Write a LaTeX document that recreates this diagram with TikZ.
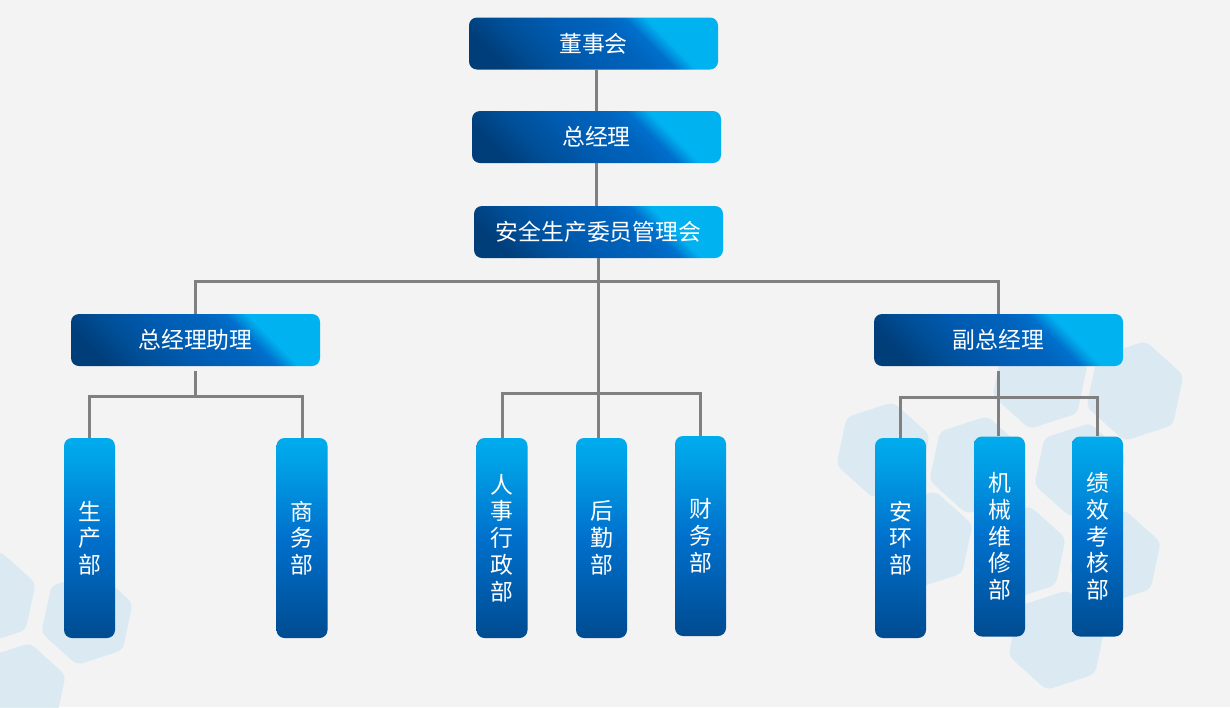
\documentclass[tikz,border=0pt]{standalone}
\usepackage{fontspec}
\setmainfont{Noto Sans CJK SC}
\usepackage{tikz}
\usetikzlibrary{positioning}
\definecolor{bgcol}{RGB}{243,243,243}
\definecolor{hexcol}{RGB}{212,232,242}
\definecolor{linegray}{RGB}{128,128,128}
\definecolor{bdark}{RGB}{0,62,122}
\definecolor{bdarka}{RGB}{0,79,152}
\definecolor{bmid}{RGB}{0,92,178}
\definecolor{bmida}{RGB}{0,100,189}
\definecolor{bmidd}{RGB}{0,112,204}
\definecolor{blight}{RGB}{0,178,240}
\pgfdeclarehorizontalshading{hshade}{100bp}{color(0bp)=(bdark); color(34bp)=(bdark); color(40bp)=(bdarka); color(47.5bp)=(bmid); color(54.5bp)=(bmida); color(58bp)=(bmidd); color(61bp)=(blight); color(100bp)=(blight)}
\pgfdeclareverticalshading{vshade}{100bp}{color(0bp)=(bdark); color(18bp)=(bdark!90!bmid); color(50bp)=(bmidd); color(68bp)=(blight!70!bmidd); color(78bp)=(blight); color(100bp)=(blight)}
\newlength\px
\setlength\px{0.02cm}

\begin{document}
\begin{tikzpicture}[x=0.02cm, y=-0.02cm,
  hbox/.style={rounded corners=8\px,
    path picture={\shade[shading=hshade, shading angle=45]
      ([shift={(-2.5cm,-2.5cm)}]path picture bounding box.center) rectangle
      ([shift={(2.5cm,2.5cm)}]path picture bounding box.center);},
    minimum width=249\px, minimum height=52\px, inner sep=0pt,
    text=white, font=\fontsize{13}{15}\selectfont},
  vbox/.style={shading=vshade, rounded corners=8\px,
    minimum width=51\px, minimum height=200\px, inner sep=0pt,
    text=white, align=center, font=\fontsize{13}{15.2}\selectfont},
  link/.style={draw=linegray, line width=3\px}]
  % background and hexagons
  \fill[bgcol] (0,0) rectangle (1230,707);
  \useasboundingbox (0,0) rectangle (1230,707);
  \begin{scope}
    \clip (0,0) rectangle (1230,707);
    \foreach \hx/\hy/\hr in {1135/391/51, 1040/380/50, 883/450/49, 977/465/50,
        1080/470/48, 925/540/50, 1020/553/48, 1115/557/48, 1057/640/51,
        -10/598/48, 87/618/48, 20/690/48}{
      \fill[hexcol, opacity=0.75, rounded corners=6\px, shift={(\hx,\hy)}, rotate=-12]
        (90:\hr) -- (150:\hr) -- (210:\hr) -- (270:\hr) -- (330:\hr) -- (30:\hr) -- cycle;
    }
  \end{scope}

  % top levels
  \node[hbox] (dsh) at (593.5,43.5) {董事会};
  \node[hbox] (zjl) at (596.5,137) {总经理};
  \node[hbox] (aqh) at (598.5,232) {安全生产委员管理会};
  \node[hbox] (zjlzl) at (195.5,340) {总经理助理};
  \node[hbox] (fzjl) at (998.5,340) {副总经理};

  % departments
  \node[vbox] (scb) at (89.5,538) {生\\产\\部};
  \node[vbox] (swb) at (302,538) {商\\务\\部};
  \node[vbox] (rsb) at (502,538) {人\\事\\行\\政\\部};
  \node[vbox] (hqb) at (601.5,538) {后\\勤\\部};
  \node[vbox] (cwb) at (700.5,536) {财\\务\\部};
  \node[vbox] (ahb) at (900.5,538) {安\\环\\部};
  \node[vbox] (jxb) at (999.5,536.5) {机\\械\\维\\修\\部};
  \node[vbox] (jkb) at (1097.5,536.5) {绩\\效\\考\\核\\部};

  % connectors
  \coordinate (bus1) at (598,281);
  \coordinate (bus2) at (598,393);
  \coordinate (bus3) at (193,396);
  \coordinate (bus4) at (997,397);
  \draw[link] (zjl.north) -- (zjl.north |- dsh.south);
  \draw[link] (zjl.south) -- (zjl.south |- aqh.north);
  \draw[link] (aqh.south) -- (aqh.south |- bus2);
  \draw[link] (zjlzl.north) |- (bus1) -| (fzjl.north);
  \draw[link] (rsb.north) |- (bus2) -| (cwb.north);
  \draw[link] (bus2) -- (bus2 |- hqb.north);
  \draw[link, shorten <=5\px] (zjlzl.south) -- (zjlzl.south |- bus3);
  \draw[link] (scb.north) |- (bus3) -| (swb.north);
  \draw[link, shorten <=5\px] (fzjl.south) -- (fzjl.south |- jxb.north);
  \draw[link] (ahb.north) |- (bus4) -| (jkb.north);
\end{tikzpicture}
\end{document}
